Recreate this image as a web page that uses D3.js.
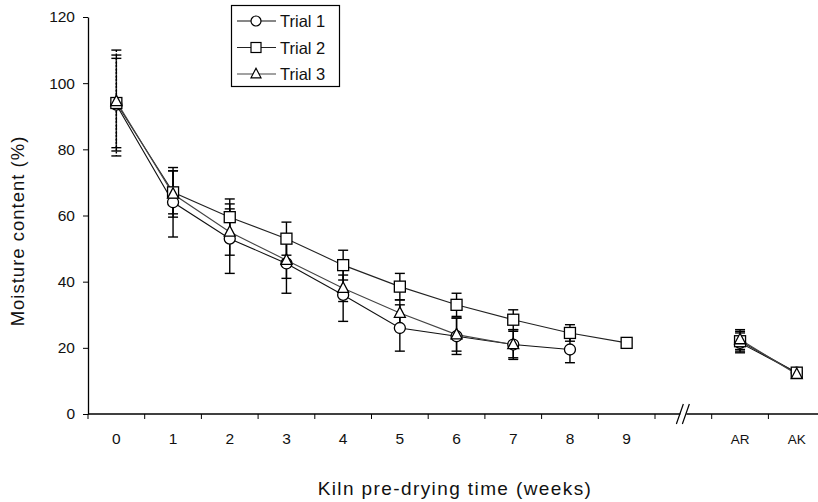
<!DOCTYPE html>
<html>
<head>
<meta charset="utf-8">
<script src="https://cdn.jsdelivr.net/npm/d3@7"></script>
<style>
  body { margin: 0; background: #fff; }
  svg { display: block; font-family: "Liberation Sans", Arial, sans-serif; }
</style>
</head>
<body>
<svg id="chart" width="818" height="502"></svg>
<script>
// categories along the x axis ("gap" holds the axis break)
const categories = ["0", "1", "2", "3", "4", "5", "6", "7", "8", "9", "gap", "AR", "AK"];
const yTicks = [0, 20, 40, 60, 80, 100, 120];

// moisture content (%) and error for each trial, null = no reading
const trial1 = [93.5, 64, 53, 45.5, 36, 26, 23.5, 21, 19.5, null, null, 21.5, 12.5];
const trial1Err = [14, 10.5, 10.5, 9, 8, 7, 5.5, 4.5, 4, null, null, 3, 1];
const trial2 = [94, 67, 59.5, 53, 45, 38.5, 33, 28.5, 24.5, 21.5, null, 22, 12.5];
const trial2Err = [16, 6.5, 5.5, 5, 4.5, 4, 3.5, 3, 2.5, 1.5, null, 3, 1];
const trial3 = [94.5, 66.5, 55, 46.5, 38, 30.5, 24, 21, null, null, null, 22.5, 12];
const trial3Err = [14, 7, 7, 5.5, 4, 4, 5, 4, null, null, null, 3, 1];

const series = [
  { name: "Trial 1", values: trial1, err: trial1Err, shape: "circle", color: "#111" },
  { name: "Trial 2", values: trial2, err: trial2Err, shape: "square", color: "#222" },
  { name: "Trial 3", values: trial3, err: trial3Err, shape: "triangle", color: "#444" }
];

const svg = d3.select("#chart");
const plotLeft = 88, plotTop = 17, plotBottom = 414, step = 56.7;

const x = d3.scaleBand()
  .domain(categories)
  .range([plotLeft, plotLeft + step * categories.length])
  .paddingInner(0).paddingOuter(0);

const y = d3.scaleLinear()
  .domain([0, 120])
  .range([plotBottom, plotTop]);

const cx = d => x(d) + x.bandwidth() / 2;

// y axis
const yAxis = svg.append("g")
  .attr("transform", `translate(${plotLeft},0)`)
  .call(d3.axisLeft(y).tickValues(yTicks).tickSize(5).tickSizeOuter(0));
yAxis.select(".domain").attr("stroke", "#000").attr("stroke-width", 1.3);
yAxis.selectAll("text").attr("font-size", 15.5).attr("fill", "#111").attr("x", -13);

// x axis (break between 9 and AR)
const breakX = cx("gap");
const xg = svg.append("g");
xg.append("line")
  .attr("x1", plotLeft).attr("x2", breakX - 3)
  .attr("y1", plotBottom).attr("y2", plotBottom)
  .attr("stroke", "#000").attr("stroke-width", 1.3);
xg.append("line")
  .attr("x1", breakX + 3).attr("x2", 818)
  .attr("y1", plotBottom).attr("y2", plotBottom)
  .attr("stroke", "#000").attr("stroke-width", 1.3);

// ticks at band edges
xg.selectAll(".tk")
  .data(categories.map(c => x(c)).filter(v => v < 818))
  .join("line")
  .attr("class", "tk")
  .attr("x1", d => d).attr("x2", d => d)
  .attr("y1", plotBottom).attr("y2", plotBottom + 5)
  .attr("stroke", "#000").attr("stroke-width", 1);

// break marks
[-4, 2].forEach(o => {
  xg.append("line")
    .attr("x1", breakX + o - 3).attr("y1", plotBottom + 10)
    .attr("x2", breakX + o + 4).attr("y2", plotBottom - 10)
    .attr("stroke", "#000").attr("stroke-width", 1.2);
});

const xAxis = svg.append("g")
  .attr("transform", `translate(0,${plotBottom})`)
  .call(d3.axisBottom(x).tickValues(categories.filter(c => c !== "gap")).tickSize(0));
xAxis.select(".domain").remove();
xAxis.selectAll("text").attr("font-size", 15.5).attr("fill", "#111").attr("dy", "1.75em");
xAxis.selectAll(".tick")
  .filter(d => d === "AR" || d === "AK")
  .select("text").attr("font-size", 13.5).attr("dy", "2em");

// axis titles
svg.append("text")
  .attr("transform", "translate(24,231) rotate(-90)")
  .attr("text-anchor", "middle")
  .attr("font-size", 18.5)
  .attr("letter-spacing", 1)
  .attr("fill", "#111")
  .text("Moisture content (%)");

svg.append("text")
  .attr("x", 455).attr("y", 495)
  .attr("text-anchor", "middle")
  .attr("font-size", 19)
  .attr("letter-spacing", 1.4)
  .attr("fill", "#111")
  .text("Kiln pre-drying time (weeks)");

// markers
function drawMarker(g, shape, px, py, size) {
  if (shape === "circle") {
    g.append("circle").attr("cx", px).attr("cy", py).attr("r", size * 0.5);
  } else if (shape === "square") {
    g.append("rect").attr("x", px - size / 2).attr("y", py - size / 2)
      .attr("width", size).attr("height", size);
  } else {
    const h = size * 0.95;
    g.append("path").attr("d",
      `M${px},${py - h * 0.6}L${px + size / 2},${py + h * 0.4}L${px - size / 2},${py + h * 0.4}Z`);
  }
}

const plot = svg.append("g");

series.forEach(s => {
  const pts = categories.map((c, i) => ({ c, v: s.values[i], e: s.err[i] }))
    .filter(p => p.v !== null);

  // error bars
  const eb = plot.append("g").attr("stroke", "#000").attr("stroke-width", 1.4);
  pts.forEach(p => {
    const px = cx(p.c);
    eb.append("line").attr("x1", px).attr("x2", px)
      .attr("y1", y(p.v + p.e)).attr("y2", y(p.v - p.e))
      .attr("stroke-dasharray", p.c === "0" ? "2,1.5" : null);
    [p.v + p.e, p.v - p.e].forEach(v => {
      eb.append("line").attr("x1", px - 5).attr("x2", px + 5)
        .attr("y1", y(v)).attr("y2", y(v));
    });
  });
});

series.forEach(s => {
  const pts = categories.map((c, i) => ({ c, v: s.values[i] }));
  const line = d3.line()
    .defined(p => p.v !== null)
    .x(p => cx(p.c))
    .y(p => y(p.v));
  plot.append("path")
    .attr("d", line(pts))
    .attr("fill", "none")
    .attr("stroke", s.color)
    .attr("stroke-width", 1.1);
});

series.forEach(s => {
  const g = plot.append("g").attr("fill", "#fff").attr("stroke", "#000").attr("stroke-width", 1.3);
  categories.forEach((c, i) => {
    if (s.values[i] === null) return;
    drawMarker(g, s.shape, cx(c), y(s.values[i]), 11);
  });
});

// legend
const lg = svg.append("g");
lg.append("rect")
  .attr("x", 231.5).attr("y", 5.5).attr("width", 108).attr("height", 81)
  .attr("fill", "#fff").attr("stroke", "#000").attr("stroke-width", 1.2);
series.forEach((s, i) => {
  const ly = 21 + i * 26.5;
  lg.append("line")
    .attr("x1", 237).attr("x2", 276).attr("y1", ly).attr("y2", ly)
    .attr("stroke", s.color).attr("stroke-width", 1.1);
  const mg = lg.append("g").attr("fill", "#fff").attr("stroke", "#000").attr("stroke-width", 1.2);
  drawMarker(mg, s.shape, 256, ly, 10);
  lg.append("text")
    .attr("x", 280).attr("y", ly + 6)
    .attr("font-size", 16.5).attr("fill", "#111")
    .text(s.name);
});
</script>
</body>
</html>
